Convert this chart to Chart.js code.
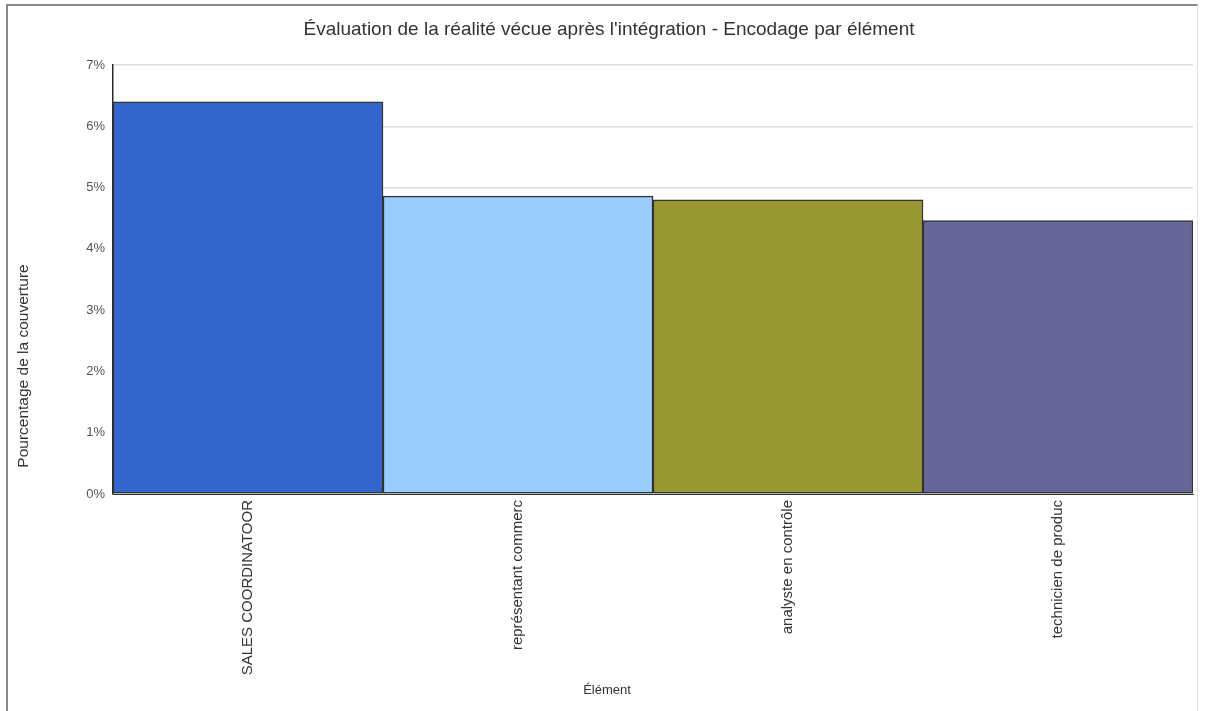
<!DOCTYPE html>
<html lang="fr">
<head>
<meta charset="utf-8">
<title>Évaluation de la réalité vécue après l'intégration</title>
<script src="https://cdn.jsdelivr.net/npm/chart.js@4/dist/chart.umd.min.js"></script>
<style>
  html, body { margin: 0; padding: 0; background: #ffffff; }
  #frame {
    position: absolute; left: 6px; top: 4px; width: 1192px; height: 720px;
    border-left: 2px solid #8a8a8a; border-top: 2px solid #8a8a8a;
    border-right: 1px solid #e2e2e2; box-sizing: border-box;
  }
  #wrap { position: absolute; left: 0; top: 0; width: 1208px; height: 711px; }
</style>
</head>
<body>
<div id="frame"></div>
<div id="wrap"><canvas id="chart"></canvas></div>
<script>
// Categories (labels as exported, truncated in the source data)
const categories = [
  "SALES COORDINATOOR",
  "représentant commerc",
  "analyste en contrôle",
  "technicien de produc"
];
// Coverage percentage per element
const coverage = [6.40, 4.86, 4.80, 4.46];
// One fill per element
const barColors = ["#3366cc", "#99ccff", "#999933", "#666699"];
// Y-axis tick values (percent)
const yTicks = [0, 1, 2, 3, 4, 5, 6, 7];

const chartTitle = "Évaluation de la réalité vécue après l'intégration - Encodage par élément";
const yTitle = "Pourcentage de la couverture";
const xTitle = "Élément";

const FONT = "'Liberation Sans', Arial, sans-serif";

// Chart title and axis titles placed relative to the whole canvas
const pageTexts = {
  id: "pageTexts",
  afterDraw(chart) {
    const ctx = chart.ctx;
    ctx.save();
    ctx.fillStyle = "#333333";
    ctx.textAlign = "center";
    ctx.textBaseline = "middle";
    ctx.font = "19px " + FONT;
    ctx.fillText(chartTitle, 609, 30);
    ctx.font = "13px " + FONT;
    ctx.fillText(xTitle, 607, 690);
    ctx.translate(24, 366);
    ctx.rotate(-Math.PI / 2);
    ctx.font = "15.5px " + FONT;
    ctx.fillText(yTitle, 0, 0);
    ctx.restore();
  }
};

new Chart(document.getElementById("chart"), {
  type: "bar",
  data: {
    labels: categories,
    datasets: [{
      data: coverage,
      backgroundColor: barColors,
      borderColor: "#333333",
      borderWidth: 1.5,
      borderSkipped: false,
      categoryPercentage: 1.0,
      barPercentage: 1.0
    }]
  },
  options: {
    responsive: true,
    maintainAspectRatio: false,
    animation: false,
    layout: { padding: { left: 0, right: 15, top: 65, bottom: 0 } },
    plugins: {
      legend: { display: false },
      tooltip: { enabled: false },
      title: { display: false }
    },
    scales: {
      x: {
        grid: { display: false, drawTicks: false },
        border: { display: true, color: "#333333", width: 1 },
        ticks: {
          color: "#333333",
          font: { family: FONT, size: 15 },
          minRotation: 90,
          maxRotation: 90,
          autoSkip: false,
          padding: 6
        },
        afterFit(scale) { scale.height = 217; }
      },
      y: {
        min: 0,
        max: 7,
        afterBuildTicks(scale) { scale.ticks = yTicks.map(v => ({ value: v })); },
        grid: { color: "#dedede", lineWidth: 1.5, drawTicks: false },
        border: { display: true, color: "#2a2a2a", width: 1.5 },
        ticks: {
          color: "#555555",
          font: { family: FONT, size: 13 },
          padding: 8,
          callback: v => v + "%"
        },
        afterFit(scale) { scale.width = 113; }
      }
    }
  },
  plugins: [pageTexts]
});
</script>
</body>
</html>
